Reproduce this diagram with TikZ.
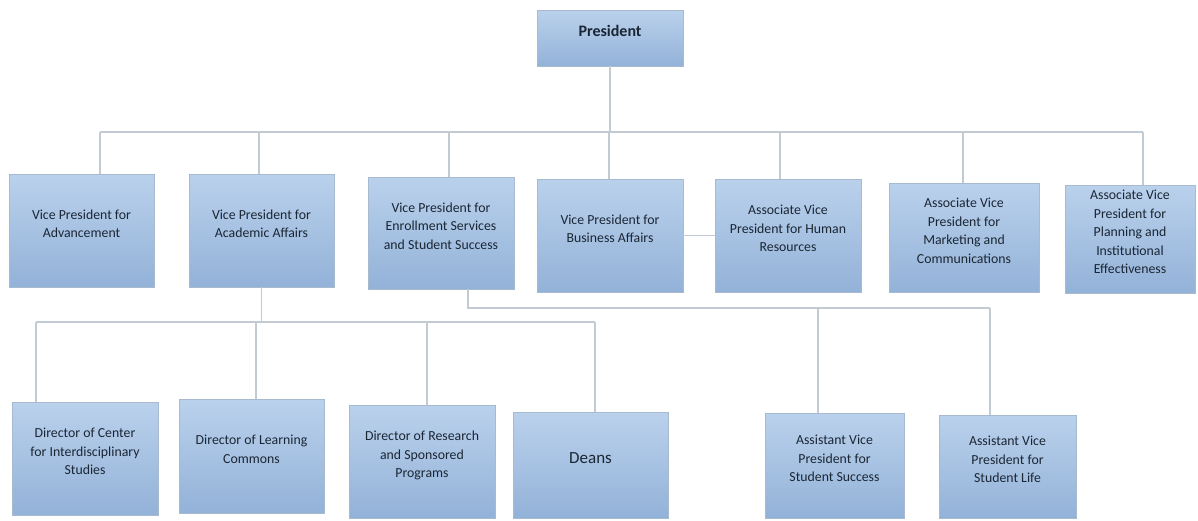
\documentclass[tikz,border=0pt]{standalone}
\usepackage{fontspec}
\setmainfont{Carlito}
\definecolor{boxtop}{HTML}{BAD1EC}
\definecolor{boxbot}{HTML}{93B2D8}
\definecolor{boxedge}{HTML}{A7BAD0}
\definecolor{boxtext}{HTML}{1B2634}
\definecolor{linecol}{HTML}{C2CAD3}
\begin{document}
\begin{tikzpicture}[x=1pt,y=-1pt,
  box/.style={draw=boxedge, line width=0.8pt, top color=boxtop, bottom color=boxbot,
    text=boxtext, align=center, inner sep=0pt,
    font=\fontsize{13.8}{18.5}\selectfont,
    execute at end node={\rule[-14pt]{0pt}{0pt}}},
  conn/.style={draw=linecol, line width=1.3pt}]
\useasboundingbox[fill=white] (0,0) rectangle (1198,520);

% top level
\node[box, minimum width=146pt, minimum height=56pt, font=\fontsize{16}{18}\selectfont\bfseries] (pres) at (610,38) {President};

% VP row
\node[box, minimum width=145pt, minimum height=113pt] (adv) at (81.5,230.5) {Vice President for\\Advancement};
\node[box, minimum width=145pt, minimum height=113pt] (acad) at (261.5,230.5) {Vice President for\\Academic Affairs};
\node[box, minimum width=146pt, minimum height=112pt] (enr) at (441,233) {Vice President for\\Enrollment Services\\and Student Success};
\node[box, minimum width=146pt, minimum height=113pt] (bus) at (610,235.5) {Vice President for\\Business Affairs};
\node[box, minimum width=146pt, minimum height=113pt] (hr) at (788,235.5) {Associate Vice\\President for Human\\Resources};
\node[box, minimum width=150pt, minimum height=109pt] (mkt) at (964,237.5) {Associate Vice\\President for\\Marketing and\\Communications};
\node[box, minimum width=130pt, minimum height=108pt] (plan) at (1130,239) {Associate Vice\\President for\\Planning and\\Institutional\\Effectiveness};

% bottom row
\node[box, minimum width=146pt, minimum height=113pt] (cis) at (85,458.5) {Director of Center\\for Interdisciplinary\\Studies};
\node[box, minimum width=145pt, minimum height=114pt] (lc) at (251.5,456) {Director of Learning\\Commons};
\node[box, minimum width=146pt, minimum height=113pt] (rsp) at (422,461.5) {Director of Research\\and Sponsored\\Programs};
\node[box, minimum width=155pt, minimum height=106pt, font=\fontsize{17}{18}\selectfont] (deans) at (590.5,465) {Deans};
\node[box, minimum width=139pt, minimum height=105pt] (ass) at (834.5,465.5) {Assistant Vice\\President for\\Student Success};
\node[box, minimum width=137pt, minimum height=103pt] (asl) at (1007.5,466.5) {Assistant Vice\\President for\\Student Life};

% level 1 connectors
\coordinate (t1) at (100,132);
\coordinate (t2) at (259,132);
\coordinate (t3) at (449,132);
\coordinate (t4) at (609,132);
\coordinate (t5) at (780,132);
\coordinate (t6) at (963,132);
\coordinate (t7) at (1143,132);
\draw[conn] (pres.south) -- (pres.south |- t1);
\draw[conn] (t1) -- (t7);
\draw[conn] (t1) -- (t1 |- adv.north);
\draw[conn] (t2) -- (t2 |- acad.north);
\draw[conn] (t3) -- (t3 |- enr.north);
\draw[conn] (t4) -- (t4 |- bus.north);
\draw[conn] (t5) -- (t5 |- hr.north);
\draw[conn] (t6) -- (t6 |- mkt.north);
\draw[conn] (t7) -- (t7 |- plan.north);
\draw[conn] (bus.east) -- (hr.west);

% academic affairs connectors
\coordinate (a1) at (36,322);
\coordinate (a2) at (256,322);
\coordinate (a3) at (427,322);
\coordinate (a4) at (595,322);
\draw[conn] (acad.south) -- (acad.south |- a1);
\draw[conn] (a1) -- (a4);
\draw[conn] (a1) -- (a1 |- cis.north);
\draw[conn] (a2) -- (a2 |- lc.north);
\draw[conn] (a3) -- (a3 |- rsp.north);
\draw[conn] (a4) -- (a4 |- deans.north);

% enrollment connectors
\coordinate (e0) at (468,308);
\coordinate (e1) at (818,308);
\coordinate (e2) at (990,308);
\draw[conn] (e0 |- enr.south) -- (e0) -- (e2);
\draw[conn] (e1) -- (e1 |- ass.north);
\draw[conn] (e2) -- (e2 |- asl.north);
\end{tikzpicture}
\end{document}
